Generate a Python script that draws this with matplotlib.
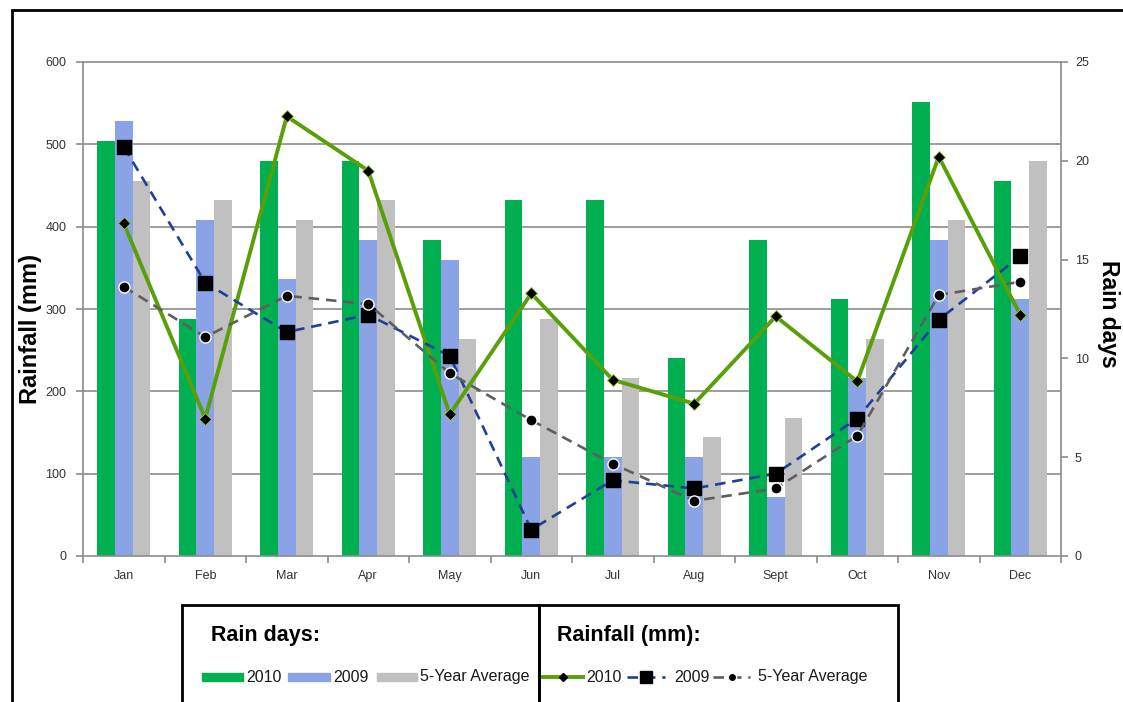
import matplotlib
matplotlib.use("Agg")
import matplotlib.pyplot as plt
import numpy as np
from matplotlib.patches import Rectangle
from matplotlib.lines import Line2D

months = ['Jan', 'Feb', 'Mar', 'Apr', 'May', 'Jun', 'Jul', 'Aug', 'Sept', 'Oct', 'Nov', 'Dec']
days_2010 = [21, 12, 20, 20, 16, 18, 18, 10, 16, 13, 23, 19]
days_2009 = [22, 17, 14, 16, 15, 5, 5, 5, 3, 9, 16, 13]
days_avg = [19, 18, 17, 18, 11, 12, 9, 6, 7, 11, 17, 20]
rain_2010 = [404, 167, 534, 468, 172, 319, 214, 185, 291, 212, 485, 293]
rain_2009 = [497, 332, 272, 293, 243, 32, 92, 82, 100, 167, 287, 364]
rain_avg = [327, 266, 316, 306, 222, 165, 112, 67, 82, 146, 317, 333]
rain_ticks = [0, 100, 200, 300, 400, 500, 600]
day_ticks = [0, 5, 10, 15, 20, 25]

plt.rcParams['font.family'] = ['Liberation Sans', 'DejaVu Sans']

W, H = 1123, 702
fig = plt.figure(figsize=(W / 100, H / 100), dpi=100)

def fx(px):
    return px / W

def fy(py):
    return 1 - py / H

C_G, C_B, C_GR = '#00B050', '#8AA3E6', '#C0C0C0'
L_G, L_B, L_GR = '#58A00A', '#1F3F99', '#5E5E5E'
GRID = '#8C8C8C'
TXT = '#333333'

# outer frame
fig.add_artist(Rectangle((fx(12), fy(740)), 1.2, fy(10) - fy(740), transform=fig.transFigure,
                         fill=False, edgecolor='black', linewidth=2, clip_on=False))

l, r, t, b = 83, 1061, 62, 556
ax = fig.add_axes([fx(l), fy(b), fx(r) - fx(l), fy(t) - fy(b)])
ax2 = ax.twinx()

x = np.arange(len(months))
bw = 0.215
ax.bar(x - bw, days_2010, bw, color=C_G, zorder=2)
ax.bar(x, days_2009, bw, color=C_B, zorder=2)
ax.bar(x + bw, days_avg, bw, color=C_GR, zorder=2)
ax.set_ylim(0, 25)
ax.set_xlim(-0.5, len(months) - 0.5)

# bars axis on the right
ax.yaxis.tick_right()
ax.yaxis.set_label_position('right')
ax.set_yticks(day_ticks)
ax.tick_params(axis='y', which='major', direction='out', length=5, width=1.2, color=GRID,
               labelsize=9, labelcolor=TXT, pad=5)
# gridlines matching the left (rainfall) ticks
ax.set_yticks([v * 25 / 600 for v in rain_ticks], minor=True)
ax.tick_params(axis='y', which='minor', length=0)
ax.grid(axis='y', which='minor', color=GRID, linewidth=1.2, zorder=0)
ax.set_axisbelow(True)

# x ticks: boundaries as major ticks, labels at centres
ax.set_xticks(np.arange(-0.5, len(months), 1.0))
ax.set_xticklabels([])
ax.set_xticks(x, minor=True)
ax.set_xticklabels(months, minor=True)
ax.tick_params(axis='x', which='major', direction='out', length=5, width=1.2, color=GRID)
ax.tick_params(axis='x', which='minor', length=0, labelsize=9, labelcolor=TXT, pad=10)

for s in ['left', 'right', 'bottom', 'top']:
    ax.spines[s].set_color(GRID)
    ax.spines[s].set_linewidth(1.2)
for s in ax2.spines.values():
    s.set_visible(False)

# lines on left axis
ax2.plot(x, rain_2010, color=L_G, linewidth=2.8, marker='D', markersize=6.5,
         markerfacecolor='black', markeredgecolor='#9acd32', markeredgewidth=0.6, zorder=3)
ax2.plot(x, rain_2009, color=L_B, linewidth=1.9, linestyle=(0, (4, 2.6)), marker='s', markersize=10,
         markerfacecolor='black', markeredgecolor='black', zorder=4)
ax2.plot(x, rain_avg, color=L_GR, linewidth=1.9, linestyle=(0, (4, 2.6)), marker='o', markersize=8,
         markerfacecolor='black', markeredgecolor='white', markeredgewidth=1.0, zorder=5)
ax2.set_ylim(0, 600)
ax2.yaxis.tick_left()
ax2.yaxis.set_label_position('left')
ax2.set_yticks(rain_ticks)
ax2.tick_params(axis='y', direction='out', length=5, width=1.2, color=GRID,
                labelsize=9, labelcolor=TXT, pad=7)

ax2.set_ylabel('Rainfall (mm)', fontsize=17, fontweight='bold', color='black')
ax2.yaxis.set_label_coords(-0.054, 0.46)
ax2.yaxis.label.set_va('center')
ax.set_ylabel('Rain days', fontsize=16.5, fontweight='bold', color='black', rotation=-90)
ax.yaxis.set_label_coords(1.049, 0.49)
ax.yaxis.label.set_va('center')

# legend boxes
for x0, x1 in [(182, 539), (539, 898)]:
    fig.add_artist(Rectangle((fx(x0), fy(740)), fx(x1) - fx(x0), fy(605) - fy(740),
                             transform=fig.transFigure, fill=False, edgecolor='black',
                             linewidth=2, clip_on=False))
fig.text(fx(211), fy(635), 'Rain days:', fontsize=15.5, fontweight='bold', va='center', ha='left')
fig.text(fx(557), fy(635), 'Rainfall (mm):', fontsize=15.5, fontweight='bold', va='center', ha='left')

LEG_Y = 677
LFS = 11.5
LTXT = '#1a1a1a'
for (p0, p1), col, lab in [((202, 243), C_G, '2010'), ((288, 330), C_B, '2009'), ((377, 417), C_GR, '5-Year Average')]:
    fig.add_artist(Rectangle((fx(p0), fy(LEG_Y + 4)), fx(p1) - fx(p0), fy(LEG_Y - 4) - fy(LEG_Y + 4),
                             transform=fig.transFigure, color=col))
    fig.text(fx(p1 + 3), fy(LEG_Y), lab, fontsize=LFS, va='center', ha='left', color=LTXT)

leg_lines = [
    ((543, 583), dict(color=L_G, linewidth=2.8, marker='D', markersize=4, markerfacecolor='black',
                      markeredgecolor='black'), '2010', 586),
    ((627, 665), dict(color=L_B, linewidth=1.9, linestyle=(0, (4, 2.6)), marker='s', markersize=9,
                      markerfacecolor='black', markeredgecolor='black'), '2009', 674),
    ((713, 750), dict(color=L_GR, linewidth=1.9, linestyle=(0, (4, 2.6)), marker='o', markersize=6,
                      markerfacecolor='black', markeredgecolor='white'), '5-Year Average', 758),
]
for (p0, p1), kw, lab, tx in leg_lines:
    fig.add_artist(Line2D([fx(p0), fx(p1)], [fy(LEG_Y), fy(LEG_Y)], transform=fig.transFigure,
                          **{k: v for k, v in kw.items() if not k.startswith('marker')}))
    fig.add_artist(Line2D([fx((p0 + p1) / 2)], [fy(LEG_Y)], transform=fig.transFigure,
                          linestyle='none', **{k: v for k, v in kw.items() if k.startswith('marker')}))
    fig.text(fx(tx), fy(LEG_Y), lab, fontsize=LFS, va='center', ha='left', color=LTXT)

fig.savefig('out.png', dpi=100, facecolor='white')
